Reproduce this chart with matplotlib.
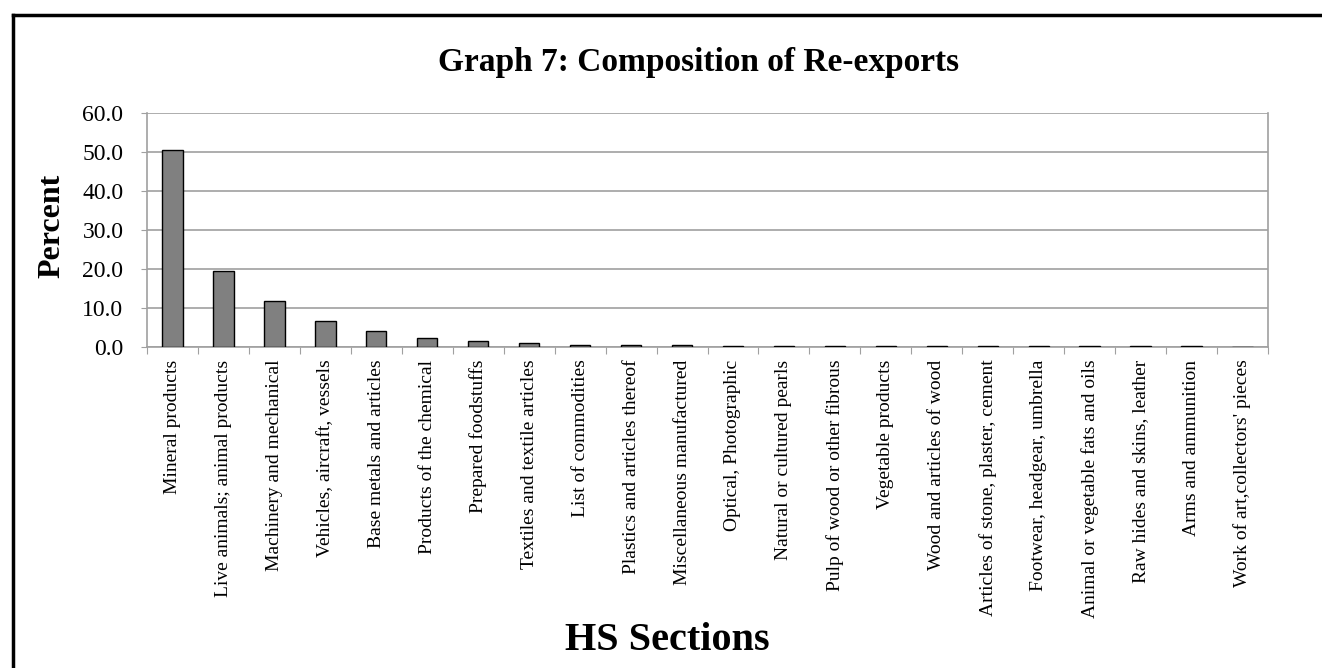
import matplotlib
matplotlib.use("Agg")
import matplotlib.pyplot as plt
from matplotlib.lines import Line2D

categories = [
    "Mineral products", "Live animals; animal products", "Machinery and mechanical",
    "Vehicles, aircraft, vessels", "Base metals and articles", "Products of the chemical",
    "Prepared foodstuffs", "Textiles and textile articles", "List of commodities",
    "Plastics and articles thereof", "Miscellaneous manufactured", "Optical, Photographic",
    "Natural or cultured pearls", "Pulp of wood or other fibrous", "Vegetable products",
    "Wood and articles of wood", "Articles of stone, plaster, cement",
    "Footwear, headgear, umbrella", "Animal or vegetable fats and oils",
    "Raw hides and skins, leather", "Arms and ammunition", "Work of art,collectors' pieces",
]
values = [50.4, 19.4, 11.8, 6.6, 4.0, 2.2, 1.6, 0.9, 0.6, 0.6, 0.6, 0.3,
          0.3, 0.3, 0.3, 0.3, 0.3, 0.3, 0.3, 0.3, 0.3, 0.0]
yticks = [0, 10, 20, 30, 40, 50, 60]

W, H = 1322, 668
fig = plt.figure(figsize=(W / 100, H / 100), dpi=100)
plt.rcParams['font.family'] = ['Liberation Serif', 'DejaVu Serif']

left, right, top, bottom = 147, 1268, 113, 347
ax = fig.add_axes([left / W, 1 - bottom / H, (right - left) / W, (bottom - top) / H])

x = list(range(len(categories)))
ax.bar(x, values, width=0.4, color='#808080', edgecolor='black', linewidth=1.0, zorder=3)
ax.set_xlim(-0.5, len(categories) - 0.5)
ax.set_ylim(0, 60)
ax.set_yticks(yticks)
ax.set_yticklabels([f"{v:.1f}" for v in yticks], fontsize=17)
ax.yaxis.grid(True, color='#a0a0a0', linewidth=1.2, zorder=0)
ax.set_axisbelow(True)

ax.set_xticks([i - 0.5 for i in range(len(categories) + 1)], minor=False)
ax.set_xticklabels([])
ax.set_xticks(x, minor=True)
ax.set_xticklabels(categories, minor=True, rotation=90, fontsize=14, va='top', ha='center')
ax.tick_params(axis='x', which='minor', length=0, pad=9)
ax.tick_params(axis='x', which='major', length=5, color='#a0a0a0', direction='out')
ax.tick_params(axis='y', length=4, color='#a0a0a0', direction='out', pad=13)

for s in ['left', 'bottom', 'right', 'top']:
    ax.spines[s].set_color('#a0a0a0')
    ax.spines[s].set_linewidth(1.2)
ax.spines['top'].set_visible(False)

fig.text(699 / W, 1 - 62 / H, "Graph 7: Composition of Re-exports", ha='center', va='center',
         fontsize=24, fontweight='bold')
fig.text(52 / W, 1 - 226 / H, "Percent", ha='center', va='center', rotation=90,
         fontsize=23, fontweight='bold')
fig.text(667 / W, 1 - 640 / H, "HS Sections", ha='center', va='center',
         fontsize=29, fontweight='bold')

# outer frame (left and top)
fig.add_artist(Line2D([13.5 / W, 13.5 / W], [0, 1 - 15 / H], color='black', linewidth=2.5,
                      transform=fig.transFigure))
fig.add_artist(Line2D([12.5 / W, 1], [1 - 15 / H, 1 - 15 / H], color='black', linewidth=2.5,
                      transform=fig.transFigure))

fig.savefig("out.png", dpi=100)
